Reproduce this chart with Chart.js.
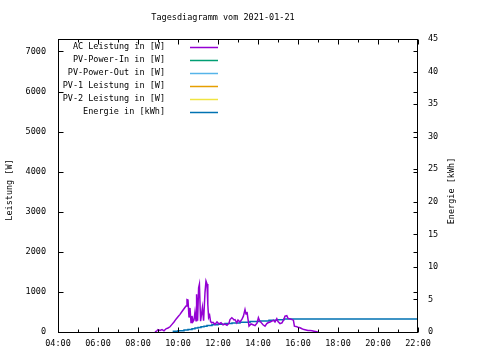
<!DOCTYPE html>
<html>
<head>
<meta charset="utf-8">
<script src="https://cdn.jsdelivr.net/npm/chart.js@4/dist/chart.umd.min.js"></script>
<style>
html,body{margin:0;padding:0;background:#fff;}
canvas{display:block;}
</style>
</head>
<body>
<canvas id="c" width="480" height="360"></canvas>
<script>
// ---- data ----
const chartTitle = "Tagesdiagramm vom 2021-01-21";
const seriesLabels = ["AC Leistung in [W]", "PV-Power-In in [W]", "PV-Power-Out in [W]", "PV-1 Leistung in [W]", "PV-2 Leistung in [W]", "Energie in [kWh]"];
const seriesColors = ["#9400d3", "#009e73", "#56b4e9", "#e69f00", "#f0e442", "#0072b2"];
const yLeftTitle = "Leistung [W]";
const yRightTitle = "Energie [kWh]";

// AC Leistung: time (hours) and watts
const acTimes = [8.85,8.95,9.0,9.1,9.2,9.3,9.4,9.5,9.6,9.7,9.8,9.9,10.0,10.1,10.2,10.3,10.4,10.45,10.5,10.55,10.6,10.65,10.7,10.75,10.8,10.85,10.9,10.93,10.98,11.03,11.07,11.13,11.22,11.28,11.35,11.4,11.45,11.49,11.53,11.58,11.63,11.69,11.75,11.85,11.95,12.05,12.15,12.25,12.35,12.45,12.55,12.6,12.69,12.75,12.8,12.85,12.94,13.0,13.1,13.2,13.27,13.35,13.4,13.45,13.5,13.55,13.65,13.75,13.85,13.95,14.02,14.08,14.15,14.25,14.35,14.44,14.5,14.6,14.7,14.77,14.85,14.94,15.0,15.1,15.2,15.28,15.35,15.44,15.5,15.6,15.7,15.77,15.82,15.9,16.0,16.1,16.2,16.3,16.4,16.5,16.6,16.7,16.8,16.94,17.0];
const acWatts = [0,30,60,40,60,30,80,100,130,190,250,320,380,440,510,580,650,810,800,360,600,240,400,260,300,500,280,940,280,1100,1190,270,610,280,990,1270,1200,690,360,420,260,230,240,190,250,200,230,180,200,170,220,310,355,330,300,310,230,300,250,320,395,560,450,500,320,145,200,180,160,220,355,280,240,180,145,210,230,250,270,295,250,330,260,210,230,300,395,410,340,330,310,295,145,140,120,105,80,60,50,40,35,30,20,5,0];

// Energie: step times (hours) and kWh
const energyTimes = [9.77,10.0,10.3,10.5,10.7,10.85,11.0,11.15,11.3,11.45,11.7,12.0,12.35,12.7,13.1,13.6,14.1,14.55,14.95,15.3,15.7,22.0];
const energyKWh = [0.0,0.1,0.2,0.3,0.4,0.5,0.6,0.7,0.8,0.9,1.0,1.1,1.2,1.3,1.4,1.5,1.6,1.7,1.8,1.9,2.0,2.0];

// axes / tick labels
const xTicks = [4,6,8,10,12,14,16,18,20,22];
const xMinorTicks = [5,7,9,11,13,15,17,19,21];
const yLeftTicks = [0,1000,2000,3000,4000,5000,6000,7000];
const yRightTicks = [0,5,10,15,20,25,30,35,40,45];
const xMin = 4, xMax = 22;
const yLeftMax = 7310;
const yRightMax = 45;

// ---- build ----
const FONT = "'DejaVu Sans Mono', monospace";
const fnt = {family: "DejaVu Sans Mono", size: 8.5};

function pts(xs, ys){ return xs.map((x,i)=>({x:x, y:ys[i]})); }
function fixTicks(arr){ return s => { s.ticks = arr.map(v => ({value: v})); }; }

const datasets = [
  {label: seriesLabels[0], data: pts(acTimes, acWatts), borderColor: seriesColors[0], yAxisID: 'y', borderWidth: 1.5},
  {label: seriesLabels[1], data: [], borderColor: seriesColors[1], yAxisID: 'y', borderWidth: 1.5},
  {label: seriesLabels[2], data: [], borderColor: seriesColors[2], yAxisID: 'y', borderWidth: 1.5},
  {label: seriesLabels[3], data: [], borderColor: seriesColors[3], yAxisID: 'y', borderWidth: 1.5},
  {label: seriesLabels[4], data: [], borderColor: seriesColors[4], yAxisID: 'y', borderWidth: 1.5},
  {label: seriesLabels[5], data: pts(energyTimes, energyKWh), borderColor: seriesColors[5], yAxisID: 'y2', borderWidth: 1.5, stepped: 'after'}
];

const decor = {
  id: 'decor',
  afterDraw(chart){
    const ctx = chart.ctx, a = chart.chartArea;
    const sx = chart.scales.x, sy = chart.scales.y, sy2 = chart.scales.y2;
    ctx.save();
    ctx.strokeStyle = '#000';
    ctx.lineWidth = 1;
    const L = Math.round(a.left)+0.5, R = Math.round(a.right)-0.5, T = Math.round(a.top)+0.5, B = Math.round(a.bottom)+0.5;
    ctx.strokeRect(L, T, R-L, B-T);
    ctx.beginPath();
    sx.ticks.forEach(t => {
      const px = Math.round(sx.getPixelForValue(t.value))+0.5;
      ctx.moveTo(px, B); ctx.lineTo(px, B-5);
      ctx.moveTo(px, T); ctx.lineTo(px, T+5);
    });
    xMinorTicks.forEach(h => {
      const px = Math.round(sx.getPixelForValue(h))+0.5;
      ctx.moveTo(px, B); ctx.lineTo(px, B-3);
      ctx.moveTo(px, T); ctx.lineTo(px, T+3);
    });
    sy.ticks.forEach(t => {
      const py = Math.round(sy.getPixelForValue(t.value))+0.5;
      ctx.moveTo(L, py); ctx.lineTo(L+5, py);
      ctx.moveTo(R, py); ctx.lineTo(R-4, py);
    });
    sy2.ticks.forEach(t => {
      const py = Math.round(sy2.getPixelForValue(t.value))+0.5;
      ctx.moveTo(R, py); ctx.lineTo(R-4, py);
    });
    ctx.stroke();

    ctx.fillStyle = '#000';
    ctx.font = "8.5px " + FONT;
    ctx.textAlign = 'center'; ctx.textBaseline = 'middle';
    ctx.fillText(chartTitle, 223, 18);
    ctx.save(); ctx.translate(10, 190); ctx.rotate(-Math.PI/2); ctx.fillText(yLeftTitle, 0, 0); ctx.restore();
    ctx.save(); ctx.translate(452, 191); ctx.rotate(-Math.PI/2); ctx.fillText(yRightTitle, 0, 0); ctx.restore();
    chart.data.datasets.forEach((ds, i) => {
      const y = 46.5 + 13 * i;
      ctx.fillStyle = '#000';
      ctx.textAlign = 'right';
      ctx.fillText(ds.label, 165, y);
      ctx.strokeStyle = ds.borderColor;
      ctx.lineWidth = 1.5;
      ctx.beginPath(); ctx.moveTo(190, Math.round(y)+0.5); ctx.lineTo(218, Math.round(y)+0.5); ctx.stroke();
    });
    ctx.restore();
  }
};

new Chart(document.getElementById('c'), {
  type: 'line',
  data: {datasets: datasets},
  options: {
    responsive: false,
    animation: false,
    devicePixelRatio: 1,
    layout: {padding: {top: 39, left: 0, right: 0, bottom: 0}},
    elements: {point: {radius: 0}, line: {tension: 0, fill: false}},
    plugins: {legend: {display: false}, title: {display: false}, tooltip: {enabled: false}},
    scales: {
      x: {
        type: 'linear', position: 'bottom', min: xMin, max: xMax,
        grid: {display: false, drawTicks: false, tickLength: 0}, border: {display: false},
        afterBuildTicks: fixTicks(xTicks),
        afterFit: s => { s.height = 28; },
        ticks: {color: '#000', font: fnt, padding: 7, maxRotation: 0, minRotation: 0, autoSkip: false,
          callback: v => (v < 10 ? '0' : '') + v + ':00'}
      },
      y: {
        type: 'linear', position: 'left', min: 0, max: yLeftMax,
        grid: {display: false, drawTicks: false, tickLength: 0}, border: {display: false},
        afterBuildTicks: fixTicks(yLeftTicks),
        afterFit: s => { s.width = 58; },
        ticks: {color: '#000', font: fnt, padding: 12, autoSkip: false, callback: v => String(v)}
      },
      y2: {
        type: 'linear', position: 'right', min: 0, max: yRightMax,
        grid: {display: false, drawTicks: false, tickLength: 0}, border: {display: false},
        afterBuildTicks: fixTicks(yRightTicks),
        afterFit: s => { s.width = 62; },
        ticks: {color: '#000', font: fnt, padding: 10, autoSkip: false, callback: v => String(v)}
      }
    }
  },
  plugins: [decor]
});
</script>
</body>
</html>
